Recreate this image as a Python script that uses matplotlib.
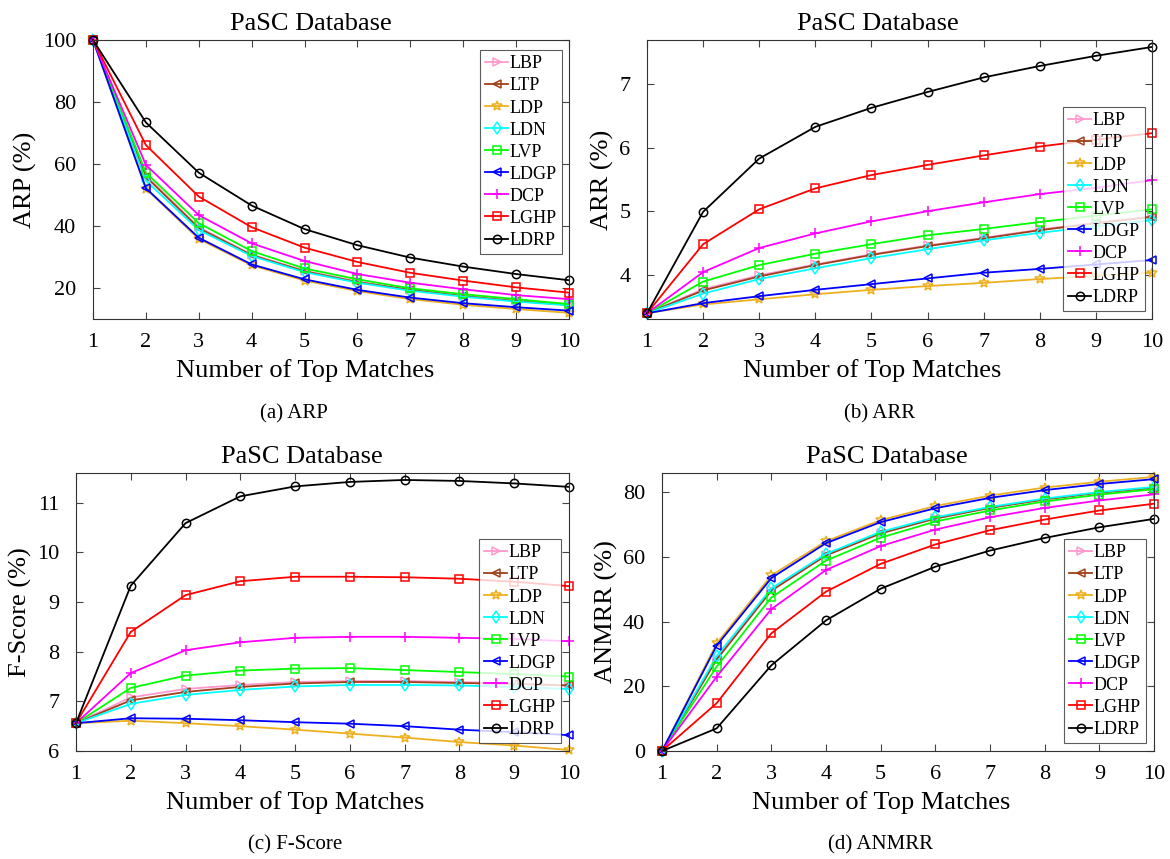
import matplotlib
matplotlib.use("Agg")
import matplotlib.pyplot as plt
import numpy as np

plt.rcParams['font.family'] = ['Liberation Serif', 'DejaVu Serif']
plt.rcParams['mathtext.fontset'] = 'stix'

x = list(range(1, 11))
methods = ["LBP", "LTP", "LDP", "LDN", "LVP", "LDGP", "DCP", "LGHP", "LDRP"]

arp = {
    "LBP":  [100, 56.3, 39.6, 30.8, 25.6, 22.1, 19.5, 17.5, 15.9, 14.6],
    "LTP":  [100, 55.9, 39.3, 30.6, 25.4, 21.9, 19.4, 17.4, 15.8, 14.5],
    "LDP":  [100, 52.0, 35.8, 27.3, 22.4, 19.0, 16.4, 14.6, 13.2, 12.0],
    "LDN":  [100, 54.6, 38.7, 30.3, 25.1, 21.7, 19.1, 17.2, 15.6, 14.4],
    "LVP":  [100, 57.2, 40.9, 31.9, 26.3, 22.8, 19.9, 18.0, 16.4, 14.8],
    "LDGP": [100, 52.2, 36.2, 27.6, 22.8, 19.4, 16.9, 15.1, 13.8, 12.7],
    "DCP":  [100, 59.7, 43.5, 34.4, 28.7, 24.5, 21.7, 19.6, 17.7, 16.4],
    "LGHP": [100, 66.1, 49.5, 39.6, 33.0, 28.4, 24.9, 22.4, 20.2, 18.5],
    "LDRP": [100, 73.4, 57.2, 46.6, 39.0, 33.8, 29.8, 26.9, 24.5, 22.5],
}
arr = {
    "LBP":  [3.39, 3.77, 3.99, 4.16, 4.32, 4.46, 4.58, 4.71, 4.82, 4.92],
    "LTP":  [3.39, 3.75, 3.97, 4.15, 4.31, 4.45, 4.57, 4.70, 4.81, 4.91],
    "LDP":  [3.39, 3.53, 3.61, 3.69, 3.76, 3.82, 3.87, 3.93, 3.98, 4.03],
    "LDN":  [3.39, 3.70, 3.93, 4.10, 4.26, 4.40, 4.54, 4.66, 4.76, 4.86],
    "LVP":  [3.39, 3.89, 4.15, 4.33, 4.48, 4.62, 4.72, 4.83, 4.93, 5.03],
    "LDGP": [3.39, 3.55, 3.66, 3.76, 3.85, 3.94, 4.03, 4.09, 4.16, 4.23],
    "DCP":  [3.39, 4.04, 4.42, 4.65, 4.84, 5.00, 5.14, 5.27, 5.37, 5.49],
    "LGHP": [3.39, 4.48, 5.03, 5.36, 5.57, 5.73, 5.88, 6.02, 6.13, 6.23],
    "LDRP": [3.39, 4.99, 5.83, 6.33, 6.63, 6.88, 7.11, 7.29, 7.45, 7.59],
}
fscore = {
    "LBP":  [6.56, 7.08, 7.25, 7.33, 7.39, 7.41, 7.41, 7.39, 7.36, 7.32],
    "LTP":  [6.56, 7.02, 7.19, 7.29, 7.36, 7.39, 7.39, 7.37, 7.35, 7.32],
    "LDP":  [6.56, 6.61, 6.56, 6.50, 6.43, 6.35, 6.27, 6.18, 6.11, 6.02],
    "LDN":  [6.56, 6.95, 7.13, 7.23, 7.30, 7.33, 7.33, 7.32, 7.29, 7.25],
    "LVP":  [6.56, 7.27, 7.52, 7.62, 7.66, 7.67, 7.63, 7.59, 7.55, 7.50],
    "LDGP": [6.56, 6.66, 6.65, 6.62, 6.58, 6.55, 6.50, 6.43, 6.38, 6.32],
    "DCP":  [6.56, 7.57, 8.03, 8.19, 8.28, 8.30, 8.30, 8.28, 8.26, 8.21],
    "LGHP": [6.56, 8.40, 9.14, 9.42, 9.51, 9.51, 9.50, 9.47, 9.41, 9.32],
    "LDRP": [6.56, 9.33, 10.59, 11.13, 11.33, 11.42, 11.46, 11.44, 11.39, 11.32],
}
anmrr = {
    "LBP":  [0, 28.6, 49.8, 60.6, 67.4, 72.0, 75.3, 77.9, 80.0, 81.5],
    "LTP":  [0, 28.3, 49.6, 60.5, 67.3, 71.9, 75.2, 77.8, 79.9, 81.4],
    "LDP":  [0, 33.3, 54.3, 64.9, 71.4, 75.8, 79.0, 81.5, 83.3, 84.8],
    "LDN":  [0, 29.4, 50.3, 61.0, 67.8, 72.3, 75.5, 78.1, 80.1, 81.7],
    "LVP":  [0, 26.1, 47.5, 58.9, 66.0, 71.0, 74.4, 77.2, 79.3, 81.0],
    "LDGP": [0, 32.6, 53.5, 64.3, 70.8, 75.1, 78.3, 80.7, 82.6, 84.1],
    "DCP":  [0, 23.0, 43.9, 56.0, 63.4, 68.5, 72.3, 75.2, 77.5, 79.4],
    "LGHP": [0, 14.8, 36.4, 49.3, 57.9, 63.9, 68.3, 71.6, 74.4, 76.5],
    "LDRP": [0, 7.0, 26.5, 40.4, 50.2, 57.0, 62.0, 65.9, 69.2, 71.8],
}

colors = {"LBP": "#ff99cc", "LTP": "#a0401a", "LDP": "#edb120", "LDN": "#00ffff",
          "LVP": "#00ff00", "LDGP": "#0000ff", "DCP": "#ff00ff", "LGHP": "#ff0000",
          "LDRP": "#000000"}
markers = {"LBP": ">", "LTP": "<", "LDP": "*", "LDN": "d", "LVP": "s", "LDGP": "<",
           "DCP": "+", "LGHP": "s", "LDRP": "o"}

fig = plt.figure(figsize=(11.7, 8.59), dpi=100)
W, H = 1170, 859

def ax_at(l, r, t, b):
    return fig.add_axes([l / W, 1 - b / H, (r - l) / W, (b - t) / H])

panels = [
    (arp, (93, 569, 40, 319), (10, 100), [20, 40, 60, 80, 100], "ARP (%)", "(a) ARP", (480, 50), (294, 414)),
    (arr, (647, 1152, 40, 319), (3.3, 7.7), [4, 5, 6, 7], "ARR (%)", "(b) ARR", (1063, 107), (880, 414)),
    (fscore, (76, 569, 473, 751), (6, 11.6), [6, 7, 8, 9, 10, 11], "F-Score (%)", "(c) F-Score", (479, 539), (295, 845)),
    (anmrr, (662, 1154, 473, 751), (0, 86), [0, 20, 40, 60, 80], "ANMRR (%)", "(d) ANMRR", (1064, 539), (880, 845)),
]

for data, (l, r, t, b), ylim, yticks, ylab, cap, (lx, ly), (cx, cy) in panels:
    ax = ax_at(l, r, t, b)
    for m in methods:
        ms = 6 if markers[m] not in ("*", "+") else 7
        ax.plot(x, data[m], color=colors[m], marker=markers[m], mfc='none',
                mec=colors[m], ms=ms, lw=1.3, mew=1.1, label=m, clip_on=False)
    ax.set_xlim(1, 10)
    ax.set_ylim(*ylim)
    ax.set_xticks(x)
    ax.set_yticks(yticks)
    ax.tick_params(direction='in', top=True, right=True, labelsize=16, length=5,
                   width=0.8, color='#444444')
    ax.tick_params(axis='y', pad=12)
    ax.tick_params(axis='x', pad=10)
    for s in ax.spines.values():
        s.set_linewidth(0.8)
        s.set_color('#333333')
    ax.set_title("PaSC Database", fontsize=19, pad=7, x=0.458)
    ax.set_xlabel("Number of Top Matches", fontsize=19, labelpad=5)
    ax.xaxis.label.set_x(0.445)
    ax.set_ylabel(ylab, fontsize=19, labelpad=4)
    leg = ax.legend(loc='upper left', bbox_to_anchor=(lx / W, 1 - ly / H),
                    bbox_transform=fig.transFigure, fontsize=13, frameon=True,
                    fancybox=False, edgecolor='#333333', borderpad=0.3,
                    labelspacing=0.28, handlelength=1.25, handletextpad=0.1,
                    borderaxespad=0)
    leg.get_frame().set_linewidth(0.8)
    fig.text(cx / W, 1 - cy / H, cap, ha='center', va='center', fontsize=15)

fig.savefig("out.png", dpi=100)
